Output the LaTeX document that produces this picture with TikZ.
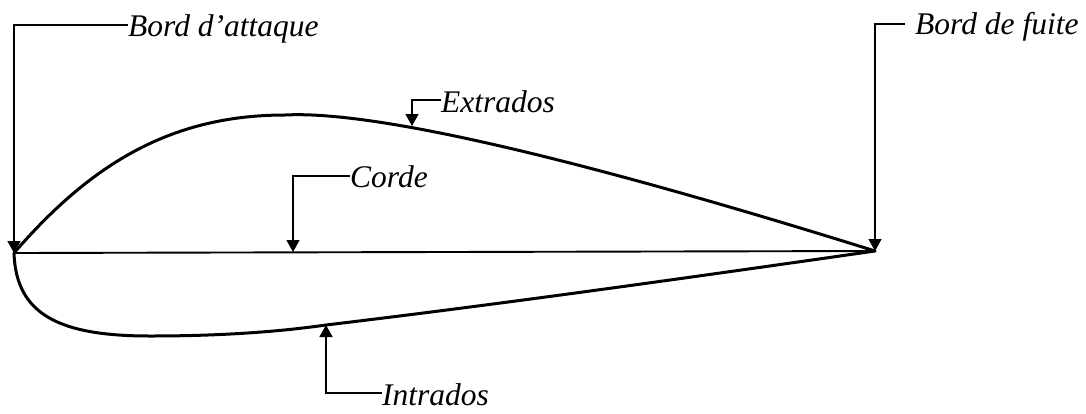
\documentclass[tikz,border=0pt]{standalone}
\usepackage{fontspec}
\setmainfont{Liberation Serif}
\usetikzlibrary{arrows.meta}
\tikzset{
  lbl/.style={font=\itshape\fontsize{31.5}{31.5}\selectfont,inner sep=0pt,anchor=base west,text=black},
  leader/.style={line width=1.6pt,-{Triangle[length=12pt,width=13pt]}},
  profile/.style={line width=3pt,line join=round,line cap=round},
  chord/.style={line width=1.9pt}
}
\begin{document}
\begin{tikzpicture}[x=1pt,y=-1pt]
\useasboundingbox (0,0) rectangle (1086,413);
\coordinate (LE) at (14,253);
\coordinate (TE) at (875,251);
\coordinate (top) at (285,115);
\coordinate (bot) at (150,336);
\coordinate (extT) at (412,126);
\coordinate (corT) at (293,252);
\coordinate (intT) at (326,325);
\node[lbl] (attaque) at (128,36.5) {Bord d’attaque};
\node[lbl] (fuite) at (915,34) {Bord de fuite};
\node[lbl] (extrados) at (441,112) {Extrados};
\node[lbl] (corde) at (350,187) {Corde};
\node[lbl] (intrados) at (382,405) {Intrados};
\draw[profile] (LE) .. controls (90,165) and (170,115) .. (top)
  .. controls (380,110) and (600,165) .. (TE);
\draw[profile] (LE) .. controls (16,315) and (60,336) .. (bot)
  .. controls (210,336) and (270,333) .. (intT)
  .. controls (510,303) and (700,276) .. (TE);
\draw[chord] (LE) -- (TE);
\draw[leader] (attaque.west |- 0,25) -| (LE);
\draw[leader] (fuite.west |- 0,24) ++(-10,0) -| (TE);
\draw[leader] (extrados.west |- 0,100) -| (extT);
\draw[leader] (corde.west |- 0,176) -| (corT);
\draw[leader] (intrados.west |- 0,393) -| (intT);
\end{tikzpicture}
\end{document}
